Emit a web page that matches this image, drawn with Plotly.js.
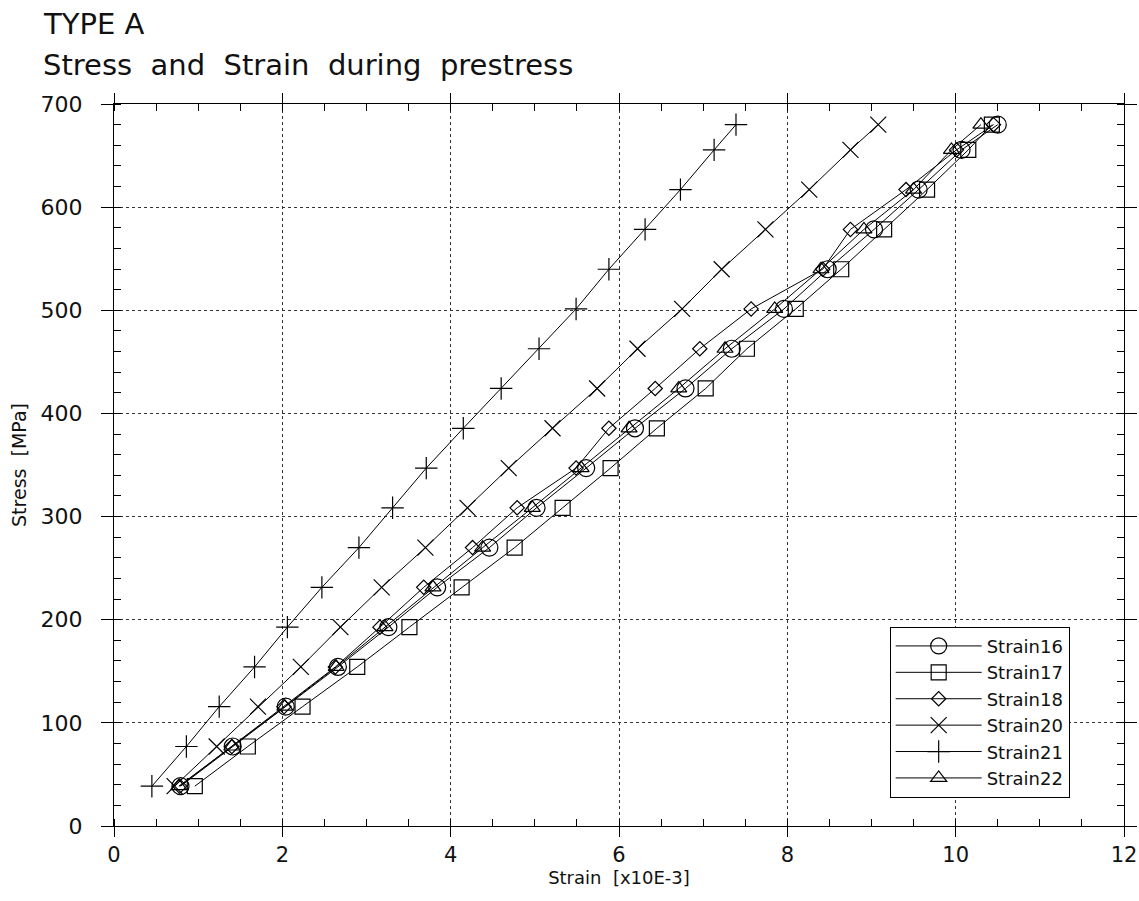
<!DOCTYPE html>
<html>
<head>
<meta charset="utf-8">
<script src="https://cdn.plot.ly/plotly-3.0.1.min.js"></script>
<style>html,body{margin:0;padding:0;background:#fff;}</style>
</head>
<body>
<div id="chart" style="width:1139px;height:901px;"></div>
<script>
// Stress levels [MPa]
const stress = [38.6, 77.1, 115.7, 154.2, 192.8, 231.4, 269.9, 308.5, 347.0, 385.6, 424.2, 462.7, 501.3, 539.8, 578.4, 617.0, 655.5, 680.0];
// Strain readings [x10E-3]
const strain16 = [0.79, 1.41, 2.04, 2.66, 3.26, 3.84, 4.46, 5.02, 5.61, 6.19, 6.79, 7.34, 7.96, 8.48, 9.03, 9.56, 10.07, 10.50];
const strain17 = [0.96, 1.59, 2.24, 2.89, 3.51, 4.13, 4.76, 5.33, 5.90, 6.45, 7.03, 7.52, 8.10, 8.64, 9.15, 9.66, 10.15, 10.43];
const strain18 = [0.78, 1.40, 2.02, 2.63, 3.16, 3.68, 4.26, 4.79, 5.49, 5.88, 6.43, 6.96, 7.57, 8.42, 8.75, 9.41, 10.01, 10.45];
const strain20 = [0.72, 1.22, 1.71, 2.22, 2.69, 3.18, 3.70, 4.20, 4.69, 5.21, 5.74, 6.22, 6.75, 7.22, 7.74, 8.26, 8.75, 9.08];
const strain21 = [0.45, 0.86, 1.25, 1.67, 2.06, 2.47, 2.91, 3.31, 3.71, 4.15, 4.60, 5.05, 5.49, 5.88, 6.31, 6.73, 7.13, 7.39];
const strain22 = [0.77, 1.40, 2.03, 2.64, 3.22, 3.79, 4.38, 4.97, 5.55, 6.12, 6.71, 7.26, 7.85, 8.40, 8.91, 9.50, 9.95, 10.30];

// Tick labels
const xTicks = [0, 2, 4, 6, 8, 10, 12];
const yTicks = [0, 100, 200, 300, 400, 500, 600, 700];

const seriesNames = ['Strain16', 'Strain17', 'Strain18', 'Strain20', 'Strain21', 'Strain22'];
const seriesData = [strain16, strain17, strain18, strain20, strain21, strain22];
const symbols = ['circle-open', 'square-open', 'diamond-open', 'x-thin-open', 'cross-thin-open', 'triangle-up-open'];
const sizes = [17, 15, 11, 16, 16, 14];

const FONT = 'DejaVu Sans, sans-serif';

const traces = seriesNames.map((name, i) => ({
  type: 'scatter',
  mode: 'lines+markers',
  name: name,
  x: seriesData[i],
  y: stress,
  line: {color: 'black', width: 1},
  marker: {symbol: symbols[i], size: sizes[i], color: 'black', line: {color: 'black', width: 1.2}},
  cliponaxis: false
}));

const axisCommon = {
  showline: true, linecolor: 'black', linewidth: 1, mirror: 'ticks',
  ticks: 'outside', ticklen: 12, tickcolor: 'black', tickwidth: 1,
  showgrid: true, gridcolor: '#333', griddash: 'dot', gridwidth: 1,
  zeroline: false, tickmode: 'array', ticklabeloverflow: 'allow',
  tickfont: {family: FONT, size: 22, color: '#111'}
};

const layout = {
  width: 1139, height: 901,
  margin: {l: 114, r: 15, t: 104, b: 75},
  paper_bgcolor: 'white', plot_bgcolor: 'white',
  font: {family: FONT, color: '#111'},
  showlegend: true,
  xaxis: Object.assign({}, axisCommon, {
    range: [0, 12], tickvals: xTicks, ticktext: xTicks.map(String),
    ticklen: 10,
    tickfont: {family: FONT, size: 21, color: '#111'},
    minor: {tickmode: 'linear', tick0: 0, dtick: 0.5, ticks: 'inside', ticklen: 7, tickcolor: 'black', showgrid: false},
    title: {text: 'Strain  [x10E-3]', font: {family: FONT, size: 18, color: '#111'}, standoff: 0}
  }),
  yaxis: Object.assign({}, axisCommon, {
    range: [0, 700], tickvals: yTicks, ticktext: yTicks.map(String),
    minor: {tickmode: 'linear', tick0: 0, dtick: 20, ticks: 'inside', ticklen: 7, tickcolor: 'black', showgrid: false},
    ticklabelstandoff: 14,
    title: {text: 'Stress  [MPa]', font: {family: FONT, size: 19, color: '#111'}, standoff: 8}
  }),
  legend: {
    x: 0.768, y: 0.276, xanchor: 'left', yanchor: 'top',
    bgcolor: 'white', bordercolor: 'black', borderwidth: 1,
    font: {family: FONT, size: 18, color: '#111'},
    itemwidth: 86, tracegroupgap: 0,
    traceorder: 'normal'
  },
  annotations: [
    {text: 'TYPE A', xref: 'paper', yref: 'paper', x: -0.072, y: 1.111, xanchor: 'left', yanchor: 'middle',
     showarrow: false, font: {family: FONT, size: 29, color: '#111'}},
    {text: 'Stress  and  Strain  during  prestress', xref: 'paper', yref: 'paper', x: -0.072, y: 1.054, xanchor: 'left', yanchor: 'middle',
     showarrow: false, font: {family: FONT, size: 29, color: '#111'}}
  ]
};

Plotly.newPlot('chart', traces, layout, {displayModeBar: false, staticPlot: true});
</script>
</body>
</html>
